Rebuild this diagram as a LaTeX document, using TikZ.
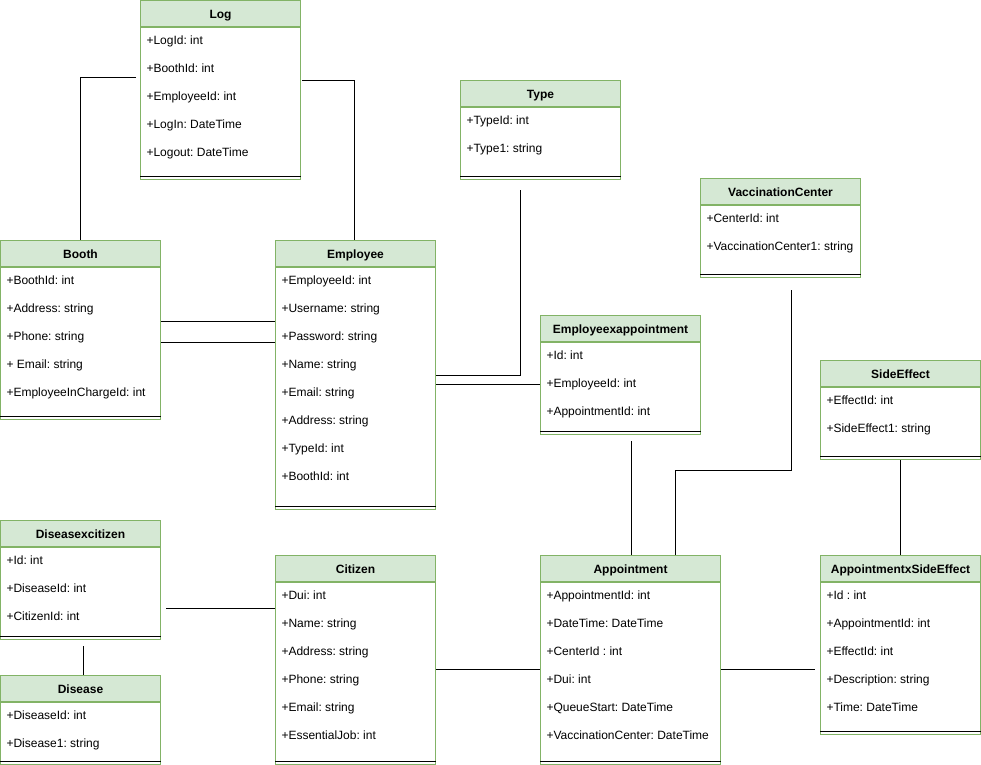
\documentclass[tikz,border=0pt]{standalone}
\usepackage{fontspec}
\setmainfont{Liberation Sans}
\frenchspacing
\usetikzlibrary{positioning}
\definecolor{headfill}{HTML}{D5E8D4}
\definecolor{headline}{HTML}{82B366}
\begin{document}
\begin{tikzpicture}[
                    x=1pt, y=-1pt,
                    line width=1pt,
                    classhead/.style={draw=headline, fill=headfill, minimum width=160pt, minimum height=26pt,
                        inner sep=0pt, anchor=north west, font=\fontsize{12}{14}\selectfont\bfseries,
                        text height=9pt, text depth=0pt},
                    classbody/.style={draw=headline, fill=white, minimum width=160pt, inner sep=0pt},
                    attrs/.style={inner sep=0pt, align=left, font=\fontsize{12}{28}\selectfont},
                    sep/.style={draw=black},
                    link/.style={draw=black},
                ]
                \useasboundingbox (0,0) rectangle (981,764);
                % classes
                \node[classhead] (log) at (140,0) {Log};
                \node[classbody, minimum height=152pt, below=0pt of log] (logbody) {};
                \node[attrs, below right=8.5pt and 6pt of logbody.north west] (logattrs)
                    {+LogId: int\\+BoothId: int\\+EmployeeId: int\\+LogIn: DateTime\\+Logout: DateTime};
                \draw[sep] ([yshift=4pt]logbody.south west) -- ([yshift=4pt]logbody.south east);

                \node[classhead] (type) at (460,80) {Type};
                \node[classbody, minimum height=72pt, below=0pt of type] (typebody) {};
                \node[attrs, below right=8.5pt and 6pt of typebody.north west] (typeattrs)
                    {+TypeId: int\\+Type1: string};
                \draw[sep] ([yshift=4pt]typebody.south west) -- ([yshift=4pt]typebody.south east);

                \node[classhead] (booth) at (0,240) {Booth};
                \node[classbody, minimum height=152pt, below=0pt of booth] (boothbody) {};
                \node[attrs, below right=8.5pt and 6pt of boothbody.north west] (boothattrs)
                    {+BoothId: int\\+Address: string\\+Phone: string\\+ Email: string\\+EmployeeInChargeId: int};
                \draw[sep] ([yshift=4pt]boothbody.south west) -- ([yshift=4pt]boothbody.south east);

                \node[classhead] (employee) at (275,240) {Employee};
                \node[classbody, minimum height=242pt, below=0pt of employee] (employeebody) {};
                \node[attrs, below right=8.5pt and 6pt of employeebody.north west] (employeeattrs)
                    {+EmployeeId: int\\+Username: string\\+Password: string\\+Name: string\\+Email: string\\+Address: string\\+TypeId: int\\+BoothId: int};
                \draw[sep] ([yshift=4pt]employeebody.south west) -- ([yshift=4pt]employeebody.south east);

                \node[classhead] (center) at (700,178) {VaccinationCenter};
                \node[classbody, minimum height=72pt, below=0pt of center] (centerbody) {};
                \node[attrs, below right=8.5pt and 6pt of centerbody.north west] (centerattrs)
                    {+CenterId: int\\+VaccinationCenter1: string};
                \draw[sep] ([yshift=4pt]centerbody.south west) -- ([yshift=4pt]centerbody.south east);

                \node[classhead] (empapp) at (540,315) {Employeexappointment};
                \node[classbody, minimum height=92pt, below=0pt of empapp] (empappbody) {};
                \node[attrs, below right=8.5pt and 6pt of empappbody.north west] (empappattrs)
                    {+Id: int\\+EmployeeId: int\\+AppointmentId: int};
                \draw[sep] ([yshift=4pt]empappbody.south west) -- ([yshift=4pt]empappbody.south east);

                \node[classhead] (effect) at (820,360) {SideEffect};
                \node[classbody, minimum height=72pt, below=0pt of effect] (effectbody) {};
                \node[attrs, below right=8.5pt and 6pt of effectbody.north west] (effectattrs)
                    {+EffectId: int\\+SideEffect1: string};
                \draw[sep] ([yshift=4pt]effectbody.south west) -- ([yshift=4pt]effectbody.south east);

                \node[classhead] (discit) at (0,520) {Diseasexcitizen};
                \node[classbody, minimum height=92pt, below=0pt of discit] (discitbody) {};
                \node[attrs, below right=8.5pt and 6pt of discitbody.north west] (discitattrs)
                    {+Id: int\\+DiseaseId: int\\+CitizenId: int};
                \draw[sep] ([yshift=4pt]discitbody.south west) -- ([yshift=4pt]discitbody.south east);

                \node[classhead] (disease) at (0,675) {Disease};
                \node[classbody, minimum height=62pt, below=0pt of disease] (diseasebody) {};
                \node[attrs, below right=8.5pt and 6pt of diseasebody.north west] (diseaseattrs)
                    {+DiseaseId: int\\+Disease1: string};
                \draw[sep] ([yshift=4pt]diseasebody.south west) -- ([yshift=4pt]diseasebody.south east);

                \node[classhead] (citizen) at (275,555) {Citizen};
                \node[classbody, minimum height=182pt, below=0pt of citizen] (citizenbody) {};
                \node[attrs, below right=8.5pt and 6pt of citizenbody.north west] (citizenattrs)
                    {+Dui: int\\+Name: string\\+Address: string\\+Phone: string\\+Email: string\\+EssentialJob: int};
                \draw[sep] ([yshift=4pt]citizenbody.south west) -- ([yshift=4pt]citizenbody.south east);

                \node[classhead, minimum width=180pt] (appointment) at (540,555) {Appointment};
                \node[classbody, minimum width=180pt, minimum height=182pt, below=0pt of appointment] (appointmentbody) {};
                \node[attrs, below right=8.5pt and 6pt of appointmentbody.north west] (appointmentattrs)
                    {+AppointmentId: int\\+DateTime: DateTime\\+CenterId : int\\+Dui: int\\+QueueStart: DateTime\\+VaccinationCenter: DateTime};
                \draw[sep] ([yshift=4pt]appointmentbody.south west) -- ([yshift=4pt]appointmentbody.south east);

                \node[classhead] (appeffect) at (820,555) {AppointmentxSideEffect};
                \node[classbody, minimum height=152pt, below=0pt of appeffect] (appeffectbody) {};
                \node[attrs, below right=8.5pt and 6pt of appeffectbody.north west] (appeffectattrs)
                    {+Id : int\\+AppointmentId: int\\+EffectId: int\\+Description: string\\+Time: DateTime};
                \draw[sep] ([yshift=4pt]appeffectbody.south west) -- ([yshift=4pt]appeffectbody.south east);

                % connectors
                \coordinate (logleft) at (136,77);
                \coordinate (logright) at (302,80);
                \coordinate (typeend) at (520,190);
                \coordinate (empappend) at (631,441);
                \coordinate (centerend) at (791,290);
                \draw[link] (logleft) -| (booth);
                \draw[link] (logright) -| ([xshift=-1pt]employee.north);
                \draw[link] ([yshift=22pt]boothbody.east) -- ([yshift=22pt]boothbody.east -| employeebody.west);
                \draw[link] ([yshift=1pt]boothbody.east) -- ([yshift=1pt]boothbody.east -| employeebody.west);
                \draw[link] ([yshift=13pt]employeebody.east) -| (typeend);
                \draw[link] ([yshift=4pt]employeebody.east) -- ([yshift=4pt]employeebody.east -| empappbody.west);
                \draw[link] (empappend) -- (empappend |- appointment.north);
                \draw[link] (centerend) -- ++(0,180) -| ([xshift=45pt]appointment.north);
                \draw[link] (effectbody) -- (appeffect);
                \draw[link] ([yshift=4pt]appointmentbody.east) -- ([yshift=4pt,xshift=-5pt]appointmentbody.east -| appeffectbody.west);
                \draw[link] ([yshift=4pt]citizenbody.east) -- ([yshift=4pt]citizenbody.east -| appointmentbody.west);
                \draw[link] ([xshift=5pt,yshift=-15pt]discitbody.east) -- ([yshift=-15pt]discitbody.east -| citizenbody.west);
                \draw[link] ([xshift=3pt,yshift=-6pt]discitbody.south) -- ([xshift=3pt]disease.north);
                \end{tikzpicture}
\end{document}
